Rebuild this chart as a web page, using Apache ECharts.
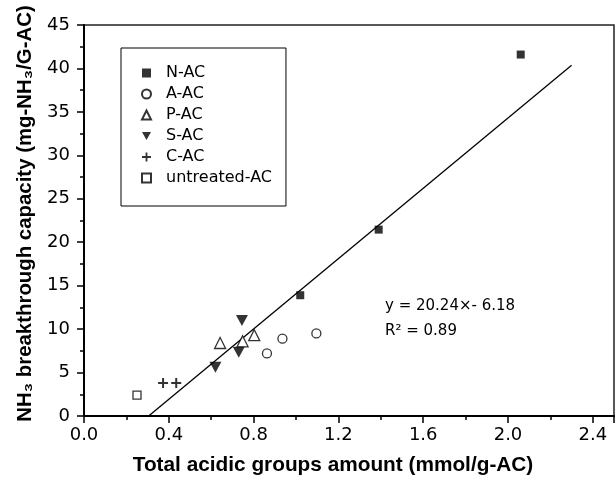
<!DOCTYPE html>
<html>
<head>
<meta charset="utf-8">
<script src="https://cdn.jsdelivr.net/npm/echarts@6/dist/echarts.min.js"></script>
<style>
  html, body { margin: 0; padding: 0; background: #fff; }
  #main { width: 616px; height: 484px; }
</style>
</head>
<body>
<div id="main"></div>
<script>
// data
var nAC = [[1.02, 13.9], [1.39, 21.45], [2.06, 41.6]];
var aAC = [[0.863, 7.2], [0.936, 8.9], [1.096, 9.5]];
var pAC = [[0.642, 8.4], [0.748, 8.6], [0.803, 9.3]];
var sAC = [[0.62, 5.6], [0.73, 7.35], [0.745, 11.0]];
var cAC = [[0.373, 3.8], [0.435, 3.8]];
var untreatedAC = [[0.25, 2.4]];

// linear fit printed on the chart
var fitSlope = 20.24;
var fitIntercept = -6.18;
var fitX = [0.305, 2.3];
var fitLine = fitX.map(function (x) {
  return [x, fitSlope * x + fitIntercept];
});

var legendNames = ["N-AC", "A-AC", "P-AC", "S-AC", "C-AC", "untreated-AC"];
var plusPath = "path://M4,0 H6 V4 H10 V6 H6 V10 H4 V6 H0 V4 H4 Z";
var downTriPath = "path://M0,0 L10,0 L5,9 Z";

var myChart = echarts.init(document.getElementById("main"));
var tickFont = { fontFamily: "DejaVu Sans", fontSize: 18, color: "#000" };
var option = {
  animation: false,
  backgroundColor: "#fff",
  grid: {
    left: 84,
    right: 2,
    top: 25,
    bottom: 68,
    outerBoundsMode: "none",
    show: true,
    borderColor: "#222",
    borderWidth: 1.5
  },
  legend: {
    data: legendNames,
    orient: "vertical",
    left: 121,
    top: 48,
    padding: [17, 14, 20, 20],
    itemWidth: 9,
    itemHeight: 9,
    itemGap: 5,
    borderColor: "#000",
    borderWidth: 1,
    textStyle: {
      fontFamily: "DejaVu Sans",
      fontSize: 16,
      color: "#000",
      lineHeight: 16,
      padding: [0, 0, 0, 10]
    }
  },
  xAxis: {
    type: "value",
    min: 0,
    max: 2.5,
    interval: 0.4,
    name: "Total acidic groups amount (mmol/g-AC)",
    nameLocation: "middle",
    nameGap: 39,
    nameTextStyle: {
      fontFamily: "Liberation Sans",
      fontWeight: "bold",
      fontSize: 20.8,
      color: "#000",
      padding: [0, 32, 0, 0]
    },
    splitLine: { show: false },
    axisLine: { lineStyle: { color: "#000", width: 2 } },
    axisTick: { length: 7, lineStyle: { color: "#000", width: 1.5 } },
    minorTick: { show: true, splitNumber: 2, length: 4, lineStyle: { color: "#000", width: 1.5 } },
    axisLabel: Object.assign({
      margin: 10,
      showMaxLabel: false,
      formatter: function (v) {
        return v <= 2.4 ? v.toFixed(1) : "";
      }
    }, tickFont)
  },
  yAxis: {
    type: "value",
    min: 0,
    max: 45,
    interval: 5,
    name: "NH\u2083 breakthrough capacity (mg-NH\u2083/G-AC)",
    nameLocation: "middle",
    nameGap: 49,
    nameTextStyle: {
      fontFamily: "Liberation Sans",
      fontWeight: "bold",
      fontSize: 20.4,
      color: "#000",
      padding: [0, 0, 0, 14]
    },
    splitLine: { show: false },
    axisLine: { lineStyle: { color: "#000", width: 2 } },
    axisTick: { length: 7, lineStyle: { color: "#000", width: 1.5 } },
    minorTick: { show: true, splitNumber: 2, length: 4, lineStyle: { color: "#000", width: 1.5 } },
    axisLabel: Object.assign({ margin: 14 }, tickFont)
  },
  graphic: [
    {
      type: "text",
      left: 385,
      top: 299,
      style: { text: "y = 20.24\u00d7- 6.18", font: "15px 'DejaVu Sans'", fill: "#000" }
    },
    {
      type: "text",
      left: 385,
      top: 324,
      style: { text: "R\u00b2 = 0.89", font: "15px 'DejaVu Sans'", fill: "#000" }
    }
  ],
  series: [
    {
      name: "fit",
      type: "line",
      data: fitLine,
      symbol: "none",
      lineStyle: { color: "#000", width: 1.3 },
      z: 1
    },
    {
      name: "N-AC",
      type: "scatter",
      data: nAC,
      symbol: "rect",
      symbolSize: 8,
      itemStyle: { color: "#000" }
    },
    {
      name: "A-AC",
      type: "scatter",
      data: aAC,
      symbol: "circle",
      symbolSize: 9,
      itemStyle: { color: "#fff", borderColor: "#000", borderWidth: 1.3 }
    },
    {
      name: "P-AC",
      type: "scatter",
      data: pAC,
      symbol: "triangle",
      symbolSize: 11,
      itemStyle: { color: "#fff", borderColor: "#000", borderWidth: 1.3 }
    },
    {
      name: "S-AC",
      type: "scatter",
      data: sAC,
      symbol: downTriPath,
      symbolSize: [12, 11],
      itemStyle: { color: "#000" }
    },
    {
      name: "C-AC",
      type: "scatter",
      data: cAC,
      symbol: plusPath,
      symbolSize: 10,
      itemStyle: { color: "#000" }
    },
    {
      name: "untreated-AC",
      type: "scatter",
      data: untreatedAC,
      symbol: "rect",
      symbolSize: 8,
      itemStyle: { color: "#fff", borderColor: "#000", borderWidth: 1.3 }
    }
  ]
};
myChart.setOption(option);
</script>
</body>
</html>
